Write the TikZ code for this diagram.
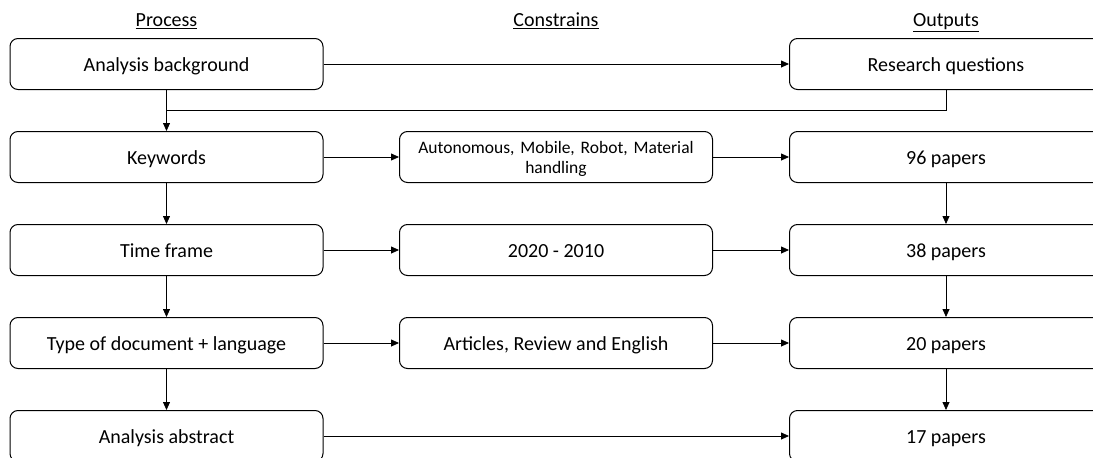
\documentclass[tikz,border=0pt]{standalone}
\usepackage{fontspec}
\setmainfont{Carlito}
\usepackage{tikz}
\usetikzlibrary{arrows.meta,positioning,calc}
\frenchspacing

\begin{document}
\begin{tikzpicture}[x=1pt,y=-1pt,
    >={Triangle[length=8pt,width=7pt]},
    box/.style={draw,line width=1pt,rounded corners=8pt,minimum width=313pt,minimum height=51pt,align=center,text height=17pt,text depth=3pt,font=\fontsize{20}{24}\selectfont},
    head/.style={anchor=base,font=\fontsize{20}{24}\selectfont},
    line/.style={line width=0.8pt}]
    \useasboundingbox (0,0) rectangle (1093,458);
    % headers
    \node [head] (h1) at (166.5,26.5) {\underline{Process}};
    \node [head] (h2) at (556,26.5) {\underline{Constrains}};
    \node [head] (h3) at (946,26.5) {\underline{Outputs}};
    % process column
    \node [box] (p1) at (166.5,64) {Analysis background};
    \node [box] (p2) at (166.5,157) {Keywords};
    \node [box] (p3) at (166.5,250) {Time frame};
    \node [box] (p4) at (166.5,343) {Type of document + language};
    \node [box] (p5) at (166.5,436) {Analysis abstract};
    % constrains column
    \node [box,text width=300pt,text height=17pt,text depth=24.7pt,font=\fontsize{17.5}{20.7}\selectfont] (c2) at (556,157) {Autonomous, Mobile, Robot, Material\\handling};
    \node [box] (c3) at (556,250) {2020 - 2010};
    \node [box] (c4) at (556,343) {Articles, Review and English};
    % outputs column
    \node [box] (o1) at (946,64) {Research questions};
    \node [box] (o2) at (946,157) {96 papers};
    \node [box] (o3) at (946,250) {38 papers};
    \node [box] (o4) at (946,343) {20 papers};
    \node [box] (o5) at (946,436) {17 papers};
    % arrows
    \coordinate (fb) at ($(p1.south)!0.5!(p2.north)$);
    \draw [line,->] (p1) to (o1);
    \draw [line] (o1.south) |- (fb);
    \draw [line,->] (p1) to (p2);
    \draw [line,->] (p2) to (p3);
    \draw [line,->] (p3) to (p4);
    \draw [line,->] (p4) to (p5);
    \draw [line,->] (p2) to (c2);
    \draw [line,->] (c2) to (o2);
    \draw [line,->] (p3) to (c3);
    \draw [line,->] (c3) to (o3);
    \draw [line,->] (p4) to (c4);
    \draw [line,->] (c4) to (o4);
    \draw [line,->] (p5) to (o5);
    \draw [line,->] (o2) to (o3);
    \draw [line,->] (o3) to (o4);
    \draw [line,->] (o4) to (o5);
\end{tikzpicture}
\end{document}
